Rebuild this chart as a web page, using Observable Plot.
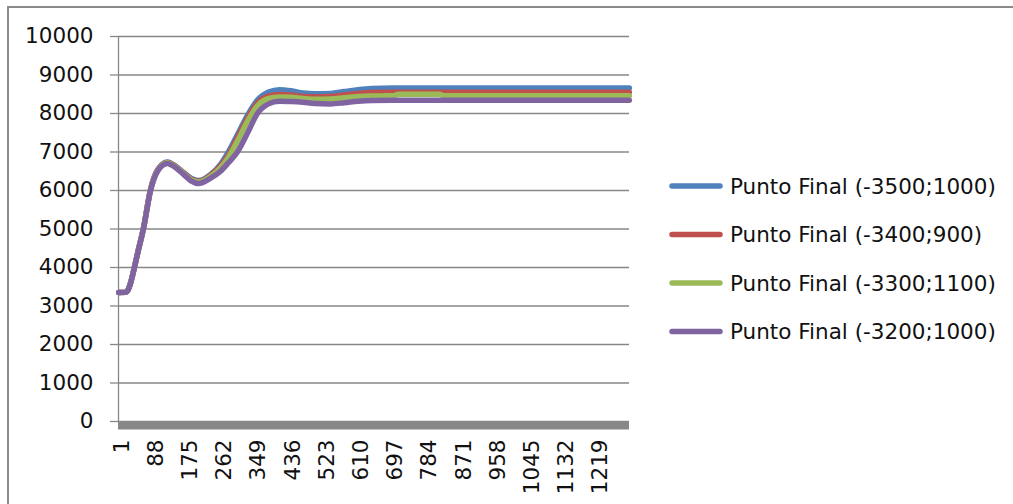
<!DOCTYPE html>
<html><head><meta charset="utf-8">
<script src="https://cdn.jsdelivr.net/npm/d3@7"></script>
<script src="https://cdn.jsdelivr.net/npm/@observablehq/plot@0.6"></script>
<style>
html,body{margin:0;padding:0;background:#fff;overflow:hidden;}
#wrap{position:relative;width:1013px;height:504px;overflow:hidden;}
#border{position:absolute;left:7px;top:6px;width:1100px;height:600px;border:2px solid #8a8a8a;box-sizing:border-box;pointer-events:none;z-index:5}
</style></head><body><div id="wrap"><div id="border"></div></div>
<script>
// ---- data ----
const seriesNames = [
  "Punto Final (-3500;1000)",
  "Punto Final (-3400;900)",
  "Punto Final (-3300;1100)",
  "Punto Final (-3200;1000)"
];
const seriesColors = ["#4F81BD", "#C0504D", "#9BBB59", "#8064A2"];
const nCategories = 1300;
const idx = [1, 18, 25, 32, 40, 50, 64, 82, 100, 125, 145, 166, 185, 204, 235, 260, 280, 303, 330, 354, 382, 410, 440, 470, 500, 540, 575, 610, 645, 700, 713, 815, 830, 1000, 1300];
const blueValues   = [3350, 3355, 3425, 3630, 3970, 4420, 5030, 6030, 6540, 6740, 6640, 6470, 6320, 6260, 6420, 6680, 7000, 7450, 7980, 8350, 8560, 8620, 8590, 8530, 8510, 8520, 8570, 8620, 8650, 8660, 8660, 8660, 8660, 8660, 8660];
const redValues    = [3350, 3355, 3422, 3625, 3960, 4410, 5020, 6020, 6530, 6730, 6630, 6455, 6300, 6240, 6400, 6640, 6920, 7370, 7900, 8270, 8450, 8495, 8480, 8440, 8430, 8440, 8480, 8520, 8545, 8550, 8550, 8550, 8550, 8550, 8550];
const greenValues  = [3350, 3355, 3421, 3622, 3955, 4405, 5010, 6010, 6520, 6720, 6620, 6440, 6280, 6220, 6370, 6590, 6860, 7280, 7820, 8200, 8390, 8430, 8420, 8390, 8370, 8375, 8410, 8440, 8455, 8460, 8500, 8500, 8460, 8460, 8460];
const purpleValues = [3350, 3355, 3420, 3620, 3950, 4400, 5000, 6000, 6500, 6700, 6600, 6420, 6250, 6180, 6320, 6500, 6720, 7000, 7520, 8000, 8250, 8320, 8310, 8290, 8260, 8250, 8280, 8320, 8340, 8345, 8345, 8345, 8345, 8345, 8345];
const yTicks = [0, 1000, 2000, 3000, 4000, 5000, 6000, 7000, 8000, 9000, 10000];
const xTickLabels = [1, 88, 175, 262, 349, 436, 523, 610, 697, 784, 871, 958, 1045, 1132, 1219];

// ---- build ----
const allValues = [blueValues, redValues, greenValues, purpleValues];
const data = [];
seriesNames.forEach((name, s) => idx.forEach((i, k) => data.push({series: name, i, v: allValues[s][k]})));

const font = "'DejaVu Sans', sans-serif";
const gray = "#878787";
const textColor = "#111";

const chart = Plot.plot({
  width: 1013, height: 504,
  marginLeft: 118, marginRight: 384, marginTop: 36, marginBottom: 83,
  style: {fontFamily: font, fontSize: "21.5px", color: textColor, background: "#fff"},
  x: {type: "linear", domain: [0.5, nCategories + 0.5]},
  y: {domain: [0, 10000]},
  marks: [
    Plot.gridY(yTicks, {stroke: gray, strokeOpacity: 1, strokeWidth: 1.3}),
    Plot.ruleX([0.5], {stroke: gray, strokeWidth: 1.3}),
    Plot.axisY(yTicks, {tickSize: 8, tickPadding: 17, tickFormat: d => String(d), stroke: gray, strokeWidth: 1.3, fill: textColor, label: null}),
    ...seriesNames.map((name, s) => Plot.line(data.filter(d => d.series === name), {
      x: "i", y: "v", stroke: seriesColors[s], strokeWidth: 5.5, curve: "monotone-x", strokeLinejoin: "round"
    })),
    Plot.ruleY([0], {stroke: gray, strokeWidth: 8, dy: 4}),
    Plot.axisX(xTickLabels, {tickSize: 0, tickPadding: 18, tickRotate: -90, dx: 3, tickFormat: d => String(d), label: null, fill: textColor})
  ]
});
chart.style.position = "absolute";
chart.style.left = "0px";
chart.style.top = "0px";
const wrap = document.getElementById("wrap");
wrap.appendChild(chart);

// legend
const legend = d3.create("svg")
  .attr("width", 1013).attr("height", 504)
  .style("position", "absolute").style("left", "0px").style("top", "0px");
seriesNames.forEach((name, s) => {
  const cy = 186 + s * 48.5;
  legend.append("line")
    .attr("x1", 672).attr("x2", 720).attr("y1", cy).attr("y2", cy)
    .attr("stroke", seriesColors[s]).attr("stroke-width", 5.5).attr("stroke-linecap", "round");
  legend.append("text")
    .attr("x", 730).attr("y", cy).attr("dy", "0.36em")
    .attr("font-family", font).attr("font-size", "21.5px").attr("fill", textColor)
    .text(name);
});
wrap.appendChild(legend.node());
</script>
</body></html>
